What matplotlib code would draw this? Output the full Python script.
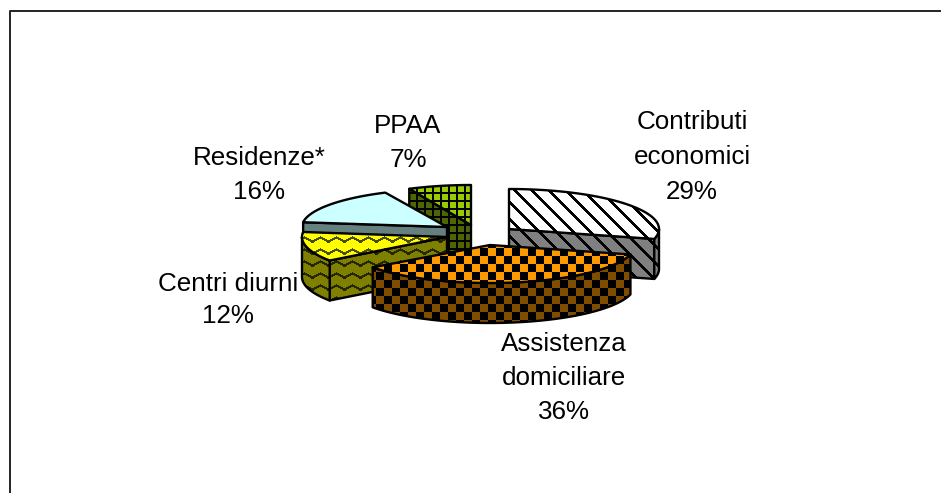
import numpy as np
import matplotlib
matplotlib.use("Agg")
import matplotlib.pyplot as plt
from matplotlib.patches import Polygon

plt.rcParams['font.family'] = ['Liberation Sans', 'DejaVu Sans']

# Data, clockwise from 12 o'clock
labels = ["Contributi\neconomici", "Assistenza\ndomiciliare", "Centri diurni", "Residenze*", "PPAA"]
values = [29, 36, 12, 16, 7]

# Layout in pixels
apex_x = [509, 490, 447, 447, 471]
apex_y = [229, 245, 237, 227, 225]
radius_x = [150, 145, 145, 145, 145]
radius_y = [40, 38, 40, 38, 40]
depth = 40
label_x = [692, 564, 228, 259, 408]
label_y = [157, 378, 300, 175, 143]
label_spacing = [1.57, 1.55, 1.45, 1.55, 1.57]

top_colors = ['#FFFFFF', '#FF9900', '#FFFF00', '#CCFFFF', '#99CC00']
side_colors = ['#808080', '#804D00', '#808000', '#668080', '#4D6600']
patterns = ['diag', 'check', 'zigzag', None, 'grid']
draw_order = [4, 3, 2, 0, 1]


def pattern_mask(name, x, y):
    if name == 'diag':
        return (((x - y) % 17) < 3.6) * 1.0
    if name == 'check':
        return ((x // 8 + y // 8) % 2) * 1.0
    if name == 'zigzag':
        wave = np.abs((x % 16) - 8) * 0.55
        return (((y + wave) % 12) < 2.6) * 0.7
    if name == 'grid':
        return ((x % 8 < 2) | (y % 8 < 2)) * 1.0
    return None


def draw_face(ax, pts, color, pattern, z):
    ax.add_patch(Polygon(pts, closed=True, facecolor=color, edgecolor='none', zorder=z))
    if pattern is not None:
        x0, y0 = np.floor(pts.min(axis=0)).astype(int)
        x1, y1 = np.ceil(pts.max(axis=0)).astype(int)
        xx, yy = np.meshgrid(np.arange(x0, x1), np.arange(y0, y1))
        img = np.zeros(xx.shape + (4,))
        img[..., 3] = pattern_mask(pattern, xx, yy)
        clip = Polygon(pts, closed=True, transform=ax.transData)
        ax.imshow(img, extent=(x0, x1, y1, y0), interpolation='nearest',
                  aspect='auto', zorder=z + 0.1, clip_path=clip)
    ax.add_patch(Polygon(pts, closed=True, fill=False, edgecolor='black',
                         linewidth=1.7, joinstyle='round', zorder=z + 0.2))


def arc(i, a, b):
    t = np.radians(np.linspace(a, b, 60))
    return np.column_stack([apex_x[i] + radius_x[i] * np.sin(t),
                            apex_y[i] - radius_y[i] * np.cos(t)])


def draw_slice(ax, i, start, end, z):
    apex = np.array([[apex_x[i], apex_y[i]]], dtype=float)
    down = np.array([0, depth])
    side = side_colors[i]
    pat = patterns[i]

    # cut faces turned towards the viewer
    for ang, visible in ((start, np.sin(np.radians(start)) < -1e-6),
                         (end, np.sin(np.radians(end)) > 1e-6)):
        if visible:
            edge = arc(i, ang, ang)[:1]
            face = np.vstack([apex, edge, edge + down, apex + down])
            draw_face(ax, face, side, pat, z)
            z += 1

    # outer wall, front half of the ellipse only
    a, b = max(start, 90), min(end, 270)
    if b > a:
        rim = arc(i, a, b)
        draw_face(ax, np.vstack([rim, rim[::-1] + down]), side, pat, z)
        z += 1

    top = np.vstack([apex, arc(i, start, end)])
    draw_face(ax, top, top_colors[i], pat, z)
    return z + 1


fig = plt.figure(figsize=(9.41, 4.93), dpi=100)
ax = fig.add_axes([0, 0, 1, 1])

bounds = np.concatenate([[0], np.cumsum(values)]) / sum(values) * 360
z = 2
for i in draw_order:
    z = draw_slice(ax, i, bounds[i], bounds[i + 1], z)

for i, name in enumerate(labels):
    ax.text(label_x[i], label_y[i], f"{name}\n{values[i]}%", ha='center', va='center',
            fontsize=18.7, linespacing=label_spacing[i], color='black', zorder=z + 1)

# chart frame, only top and left reach inside the crop
ax.plot([941, 10.5, 10.5], [10.5, 10.5, 493], color='#222222', lw=1.4, zorder=1)

ax.set_xlim(0, 941)
ax.set_ylim(493, 0)
ax.axis('off')
fig.savefig('out.png', dpi=100)
